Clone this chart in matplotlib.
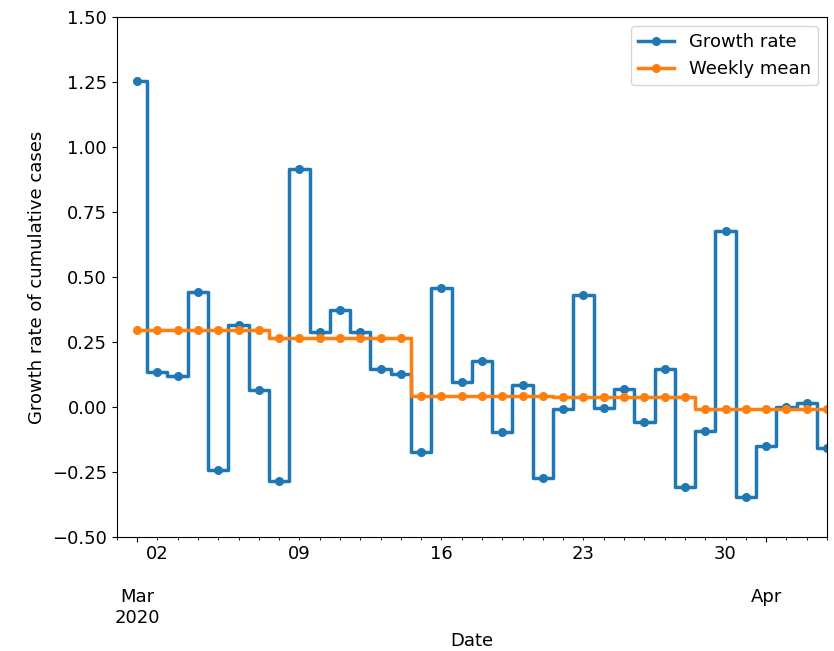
import numpy as np
import pandas as pd
import matplotlib
matplotlib.use("Agg")
import matplotlib.pyplot as plt
import matplotlib.dates as mdates
from matplotlib.ticker import FixedLocator, FuncFormatter

plt.rcParams['font.size'] = 13

# Datos: tasa de crecimiento diaria (1 mar - 4 abr 2020)
dates = pd.date_range("2020-03-01", "2020-04-04", freq="D")
growth_rate = [1.254, 0.136, 0.119, 0.442, -0.242, 0.314, 0.065,
               -0.285, 0.915, 0.288, 0.373, 0.288, 0.146, 0.126,
               -0.172, 0.456, 0.095, 0.177, -0.096, 0.086, -0.271,
               -0.008, 0.429, -0.005, 0.069, -0.058, 0.145, -0.306,
               -0.091, 0.678, -0.345, -0.150, -0.001, 0.014, -0.157]
weekly_mean = [0.298] * 7 + [0.264] * 7 + [0.042] * 7 + [0.037] * 7 + [-0.009] * 7

month_ticks = ["2020-03-01", "2020-04-01"]
month_labels = ["Mar\n2020", "Apr"]

fig = plt.figure(figsize=(8.34, 6.51), dpi=100)
ax = fig.add_axes([0.140, 0.175, 0.8516, 0.799])

x = mdates.date2num(dates.to_pydatetime())
ax.plot(x, growth_rate, drawstyle="steps-mid", marker="o", markersize=5.5,
        linewidth=2.5, color="#1f77b4", label="Growth rate")
ax.plot(x, weekly_mean, drawstyle="steps-mid", marker="o", markersize=5.5,
        linewidth=2.5, color="#ff7f0e", label="Weekly mean")

ax.set_xlim(mdates.date2num(pd.Timestamp("2020-02-29")), x[-1])
ax.set_ylim(-0.5, 1.5)
ax.set_yticks(np.arange(-0.5, 1.51, 0.25))

# Ejes de fecha al estilo pandas
major = [mdates.date2num(pd.Timestamp(d)) for d in month_ticks]
ax.xaxis.set_major_locator(FixedLocator(major))
ax.xaxis.set_major_formatter(FuncFormatter(
    lambda v, p: month_labels[major.index(v)] if v in major else ""))
minor = mdates.date2num(pd.date_range("2020-02-29", "2020-04-04").to_pydatetime())
ax.xaxis.set_minor_locator(FixedLocator(minor))
ax.xaxis.set_minor_formatter(FuncFormatter(
    lambda v, p: mdates.num2date(v).strftime("%d") if mdates.num2date(v).weekday() == 0 else ""))
ax.tick_params(axis="x", which="major", pad=33)

ax.set_xlabel("Date")
ax.set_ylabel("Growth rate of cumulative cases")
ax.legend(loc="upper right")

fig.savefig("out.png", dpi=100)
